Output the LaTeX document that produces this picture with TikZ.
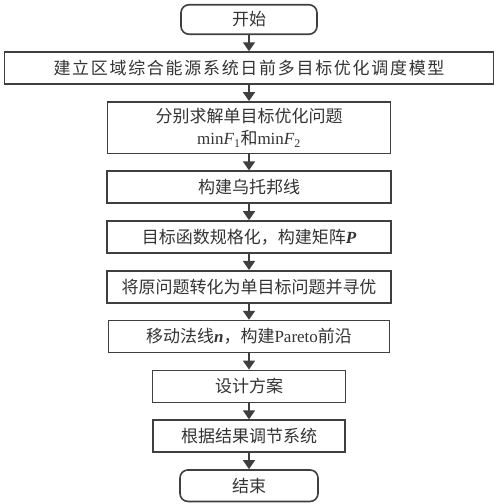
\documentclass[tikz,border=0pt]{standalone}
\usepackage{fontspec}
\setmainfont{Liberation Serif}
\newfontfamily\cjk{Noto Sans CJK SC}
\newfontfamily\cjkwide[LetterSpace=10]{Noto Sans CJK SC}
\usetikzlibrary{positioning,arrows.meta}
\definecolor{linegray}{HTML}{3F3F3F}
\definecolor{txtgray}{HTML}{333333}
\newcommand\lat[1]{{\rmfamily #1}}
\tikzset{
  box/.style={draw=linegray, line width=1.6pt, text=txtgray, minimum height=32pt,
    inner sep=2pt, align=center, font={\fontsize{17}{22}\selectfont\cjk}},
  terminal/.style={box, rounded corners=8pt},
  flow/.style={draw=linegray, line width=1.8pt, -{Triangle[width=12pt,length=9pt]}}
}
\begin{document}
\begin{tikzpicture}[x=1pt,y=1pt,node distance=16.2pt]
\useasboundingbox (0,0) rectangle (500,-504);
\node[terminal, minimum width=136pt, minimum height=29.5pt] (start) at (249,-19.5) {开始};
\node[box, minimum width=489pt, below=of start, font={\fontsize{17}{22}\selectfont\cjkwide}] (model) {建立区域综合能源系统日前多目标优化调度模型};
\node[box, minimum width=283pt, minimum height=51.5pt, below=of model] (single) {分别求解单目标优化问题\\ \lat{min\textit{F}\textsubscript{1}}和\lat{min\textit{F}\textsubscript{2}}};
\node[box, minimum width=284pt, below=of single] (utopia) {构建乌托邦线};
\node[box, minimum width=284pt, below=of utopia] (norm) {目标函数规格化，构建矩阵\lat{\textbf{\textit{P}}}};
\node[box, minimum width=284pt, below=of norm] (convert) {将原问题转化为单目标问题并寻优};
\node[box, minimum width=281pt, below=of convert] (pareto) {移动法线\lat{\textbf{\textit{n}}}，构建\lat{Pareto}前沿};
\node[box, minimum width=193pt, below=of pareto] (design) {设计方案};
\node[box, minimum width=192pt, below=of design] (adjust) {根据结果调节系统};
\node[terminal, minimum width=138pt, minimum height=31.5pt, below=of adjust] (stop) {结束};
% connectors
\foreach \a/\b in {start/model, model/single, single/utopia, utopia/norm, norm/convert,
  convert/pareto, pareto/design, design/adjust, adjust/stop}
  \draw[flow] (\a) -- (\b);
\end{tikzpicture}
\end{document}
